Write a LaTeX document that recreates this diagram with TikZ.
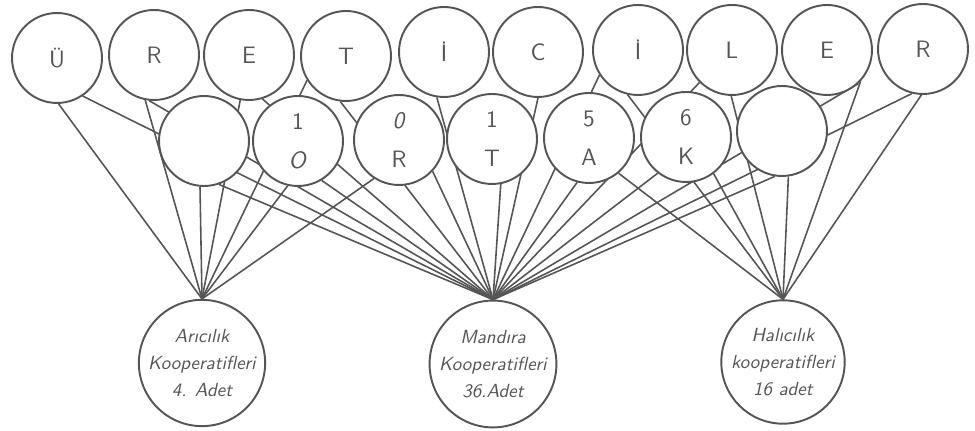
\documentclass[tikz,border=0pt]{standalone}
\usepackage{fontspec}
\definecolor{inkc}{RGB}{85,85,85}
\pgfdeclarelayer{bg}
\pgfsetlayers{bg,main}
\begin{document}
\begin{tikzpicture}[x=0.02cm,y=-0.02cm,
  topc/.style={circle,draw=inkc,line width=1.1pt,fill=white,inner sep=0pt,minimum size=1.8cm,
    font=\fontsize{13.5}{15}\selectfont\sffamily,text=inkc},
  midc/.style={topc,align=center,font=\fontsize{13.5}{22}\selectfont\sffamily},
  coop/.style={circle,draw=inkc,line width=1.1pt,fill=white,inner sep=0pt,minimum size=2.4cm,
    align=center,font=\fontsize{10.8}{15.3}\selectfont\sffamily\itshape,text=inkc},
  link/.style={draw=inkc,line width=0.9pt}]
\useasboundingbox (0,0) rectangle (975,431);
% top row
\node[topc] (t1) at (57,58) {Ü};
\node[topc] (t2) at (154,55) {R};
\node[topc] (t3) at (249,55) {E};
\node[topc] (t4) at (346,56) {T};
\node[topc] (t5) at (444,52) {İ};
\node[topc] (t6) at (538,52) {C};
\node[topc] (t7) at (638,50) {İ};
\node[topc] (t8) at (732,50) {L};
\node[topc] (t9) at (827,50) {E};
\node[topc] (t10) at (923,49) {R};
% second row
\node[midc] (m1) at (204,141) {};
\node[midc] (m2) at (298,141) {1\\\textsl{O}};
\node[midc] (m3) at (399,140) {\textsl{0}\\R};
\node[midc] (m4) at (492,139) {1\\T};
\node[midc] (m5) at (589,138) {5\\A};
\node[midc] (m6) at (686,137) {6\\K};
\node[midc] (m7) at (782,131) {};
% cooperatives
\node[coop] (ar) at (202,363) {Arıcılık\\Kooperatifleri\\4. Adet};
\node[coop] (ma) at (493,364) {Mandıra\\Kooperatifleri\\36.Adet};
\node[coop] (ha) at (783,362) {Halıcılık\\kooperatifleri\\16 adet};
\begin{pgfonlayer}{bg}
% to Aricilik
\foreach \s in {t1.-88,t2.-101,t3.-101,t4.-148,m1.-95,m2.-103,m3.-123}
  \draw[link] (\s) -- (ar.north);
% to Mandira
\foreach \s in {t1.-56,t2.-96,t3.-73,t4.-97,t5.-99,t6.-90,t7.-147,t8.-135,t9.-47,t10.-104,
                m1.-71,m2.-59,m3.-43,m4.-79,m5.-105,m6.-128,m7.-99}
  \draw[link] (\s) -- (ma.north);
% to Halicilik
\foreach \s in {t7.-103,t8.-91,t9.-43,t10.-92,m5.-50,m6.-53,m7.-82}
  \draw[link] (\s) -- (ha.north);
\end{pgfonlayer}
\end{tikzpicture}
\end{document}
